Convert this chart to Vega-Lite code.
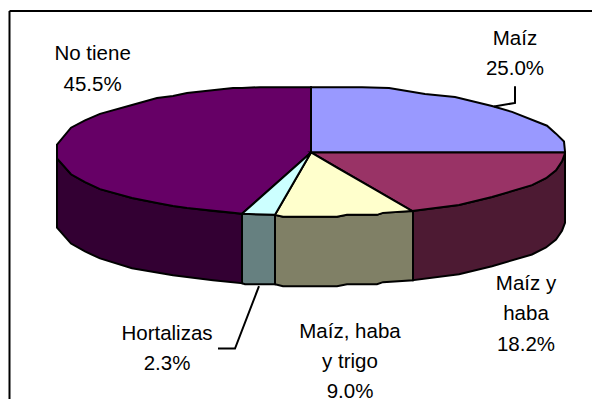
{"$schema":"https://vega.github.io/schema/vega-lite/v6.json","width":592,"height":403,"padding":0,"autosize":{"type":"fit","contains":"padding"},"background":"white","view":{"stroke":null},
"datasets":{
"sides":[
{"part":"No tiene lado","x":57,"y":160,"y2":230},{"part":"No tiene lado","x":71,"y":176,"y2":246},{"part":"No tiene lado","x":85,"y":184,"y2":254},{"part":"No tiene lado","x":100,"y":191,"y2":261},{"part":"No tiene lado","x":132,"y":200,"y2":271},{"part":"No tiene lado","x":173,"y":208,"y2":278},{"part":"No tiene lado","x":213,"y":213,"y2":283},{"part":"No tiene lado","x":242,"y":216,"y2":286},
{"part":"Hortalizas lado","x":242,"y":216,"y2":286},{"part":"Hortalizas lado","x":245,"y":216,"y2":287},{"part":"Hortalizas lado","x":275,"y":217,"y2":287},
{"part":"Maíz, haba y trigo lado","x":275,"y":217,"y2":287},{"part":"Maíz, haba y trigo lado","x":283,"y":219,"y2":289},{"part":"Maíz, haba y trigo lado","x":337,"y":219,"y2":289},{"part":"Maíz, haba y trigo lado","x":347,"y":217,"y2":287},{"part":"Maíz, haba y trigo lado","x":377,"y":217,"y2":287},{"part":"Maíz, haba y trigo lado","x":383,"y":215,"y2":285},{"part":"Maíz, haba y trigo lado","x":413,"y":213,"y2":283},
{"part":"Maíz y haba lado","x":413,"y":213,"y2":283},{"part":"Maíz y haba lado","x":459,"y":207,"y2":277},{"part":"Maíz y haba lado","x":492,"y":199,"y2":269},{"part":"Maíz y haba lado","x":532,"y":187,"y2":257},{"part":"Maíz y haba lado","x":546,"y":180,"y2":250},{"part":"Maíz y haba lado","x":556,"y":172,"y2":242},{"part":"Maíz y haba lado","x":562,"y":163,"y2":233},{"part":"Maíz y haba lado","x":565,"y":155,"y2":225}
],
"tops":[
{"part":"No tiene","x":57,"y":146,"y2":160},{"part":"No tiene","x":71,"y":129,"y2":176},{"part":"No tiene","x":85,"y":121.5,"y2":184},{"part":"No tiene","x":100,"y":115,"y2":191},{"part":"No tiene","x":132,"y":106,"y2":200},{"part":"No tiene","x":157,"y":99,"y2":205},{"part":"No tiene","x":173,"y":97,"y2":208},{"part":"No tiene","x":187,"y":94,"y2":210},{"part":"No tiene","x":233,"y":89,"y2":215},{"part":"No tiene","x":242,"y":89,"y2":216},{"part":"No tiene","x":260,"y":88,"y2":199.8},{"part":"No tiene","x":311,"y":88,"y2":154},
{"part":"Maíz","x":311,"y":88,"y2":154},{"part":"Maíz","x":362,"y":88,"y2":154},{"part":"Maíz","x":389,"y":89,"y2":154},{"part":"Maíz","x":425,"y":95,"y2":154},{"part":"Maíz","x":455,"y":98,"y2":154},{"part":"Maíz","x":492,"y":107,"y2":154},{"part":"Maíz","x":512,"y":113,"y2":154},{"part":"Maíz","x":547,"y":127,"y2":154},{"part":"Maíz","x":556,"y":135,"y2":154},{"part":"Maíz","x":564,"y":143,"y2":154},{"part":"Maíz","x":565,"y":153,"y2":154},
{"part":"Maíz y haba","x":311,"y":154,"y2":154},{"part":"Maíz y haba","x":412,"y":154,"y2":213},{"part":"Maíz y haba","x":459,"y":154,"y2":207},{"part":"Maíz y haba","x":492,"y":154,"y2":199},{"part":"Maíz y haba","x":532,"y":154,"y2":187},{"part":"Maíz y haba","x":546,"y":154,"y2":180},{"part":"Maíz y haba","x":556,"y":154,"y2":172},{"part":"Maíz y haba","x":562,"y":154,"y2":163},{"part":"Maíz y haba","x":565,"y":154,"y2":155},
{"part":"Maíz, haba y trigo","x":275,"y":217,"y2":217},{"part":"Maíz, haba y trigo","x":283,"y":203,"y2":219},{"part":"Maíz, haba y trigo","x":311,"y":154,"y2":219},{"part":"Maíz, haba y trigo","x":337,"y":169.2,"y2":219},{"part":"Maíz, haba y trigo","x":347,"y":175,"y2":217},{"part":"Maíz, haba y trigo","x":377,"y":192.5,"y2":217},{"part":"Maíz, haba y trigo","x":383,"y":196,"y2":215},{"part":"Maíz, haba y trigo","x":412,"y":213,"y2":213},
{"part":"Hortalizas","x":242,"y":216,"y2":216},{"part":"Hortalizas","x":275,"y":186.3,"y2":217},{"part":"Hortalizas","x":311,"y":154,"y2":154}
],
"lines":[
{"id":"frameTop","k":1,"x":9.5,"y":11},{"id":"frameTop","k":2,"x":592,"y":11},
{"id":"frameLeft","k":1,"x":9.5,"y":11},{"id":"frameLeft","k":2,"x":9.5,"y":403},
{"id":"Maíz","k":1,"x":515,"y":87},{"id":"Maíz","k":2,"x":515,"y":104},{"id":"Maíz","k":3,"x":494,"y":107.5},
{"id":"Hortalizas","k":1,"x":218,"y":352},{"id":"Hortalizas","k":2,"x":235,"y":352},{"id":"Hortalizas","k":3,"x":259,"y":289}
],
"labels":[
{"label":"No tiene\n45.5%","value":45.5,"x":92.6,"y":61},
{"label":"Maíz\n25.0%","value":25,"x":515,"y":45},
{"label":"Hortalizas\n2.3%","value":2.3,"x":167,"y":343},
{"label":"Maíz y\nhaba\n18.2%","value":18.2,"x":526,"y":293},
{"label":"Maíz, haba\ny trigo\n9.0%","value":9,"x":350,"y":341}
]},
"encoding":{
"x":{"field":"x","type":"quantitative","axis":null,"scale":{"domain":[0,592],"nice":false,"zero":false}},
"y":{"field":"y","type":"quantitative","axis":null,"scale":{"domain":[403,0],"nice":false,"zero":false}}
},
"layer":[
{"data":{"name":"sides"},"mark":{"type":"area","stroke":"black","strokeWidth":2,"opacity":1,"interpolate":"linear"},
"encoding":{"y2":{"field":"y2"},"fill":{"field":"part","type":"nominal","legend":null,"scale":{"domain":["No tiene lado","Hortalizas lado","Maíz, haba y trigo lado","Maíz y haba lado","No tiene","Maíz","Maíz y haba","Maíz, haba y trigo","Hortalizas"],"range":["#330033","#668080","#808066","#4D1A33","#660066","#9999FF","#993366","#FFFFCC","#CCFFFF"]}}}},
{"data":{"name":"tops"},"mark":{"type":"area","stroke":"black","strokeWidth":2,"opacity":1,"interpolate":"linear"},
"encoding":{"y2":{"field":"y2"},"fill":{"field":"part","type":"nominal","legend":null,"scale":{"domain":["No tiene lado","Hortalizas lado","Maíz, haba y trigo lado","Maíz y haba lado","No tiene","Maíz","Maíz y haba","Maíz, haba y trigo","Hortalizas"],"range":["#330033","#668080","#808066","#4D1A33","#660066","#9999FF","#993366","#FFFFCC","#CCFFFF"]}}}},
{"data":{"name":"lines"},"mark":{"type":"line","stroke":"black","strokeWidth":2,"clip":true},
"encoding":{"detail":{"field":"id"},"order":{"field":"k","type":"quantitative"}}},
{"data":{"name":"labels"},"mark":{"type":"text","font":"Liberation Sans","fontSize":20.5,"lineBreak":"\n","lineHeight":30.3,"align":"center","baseline":"alphabetic","color":"#000000"},
"encoding":{"text":{"field":"label"}}}
]}
